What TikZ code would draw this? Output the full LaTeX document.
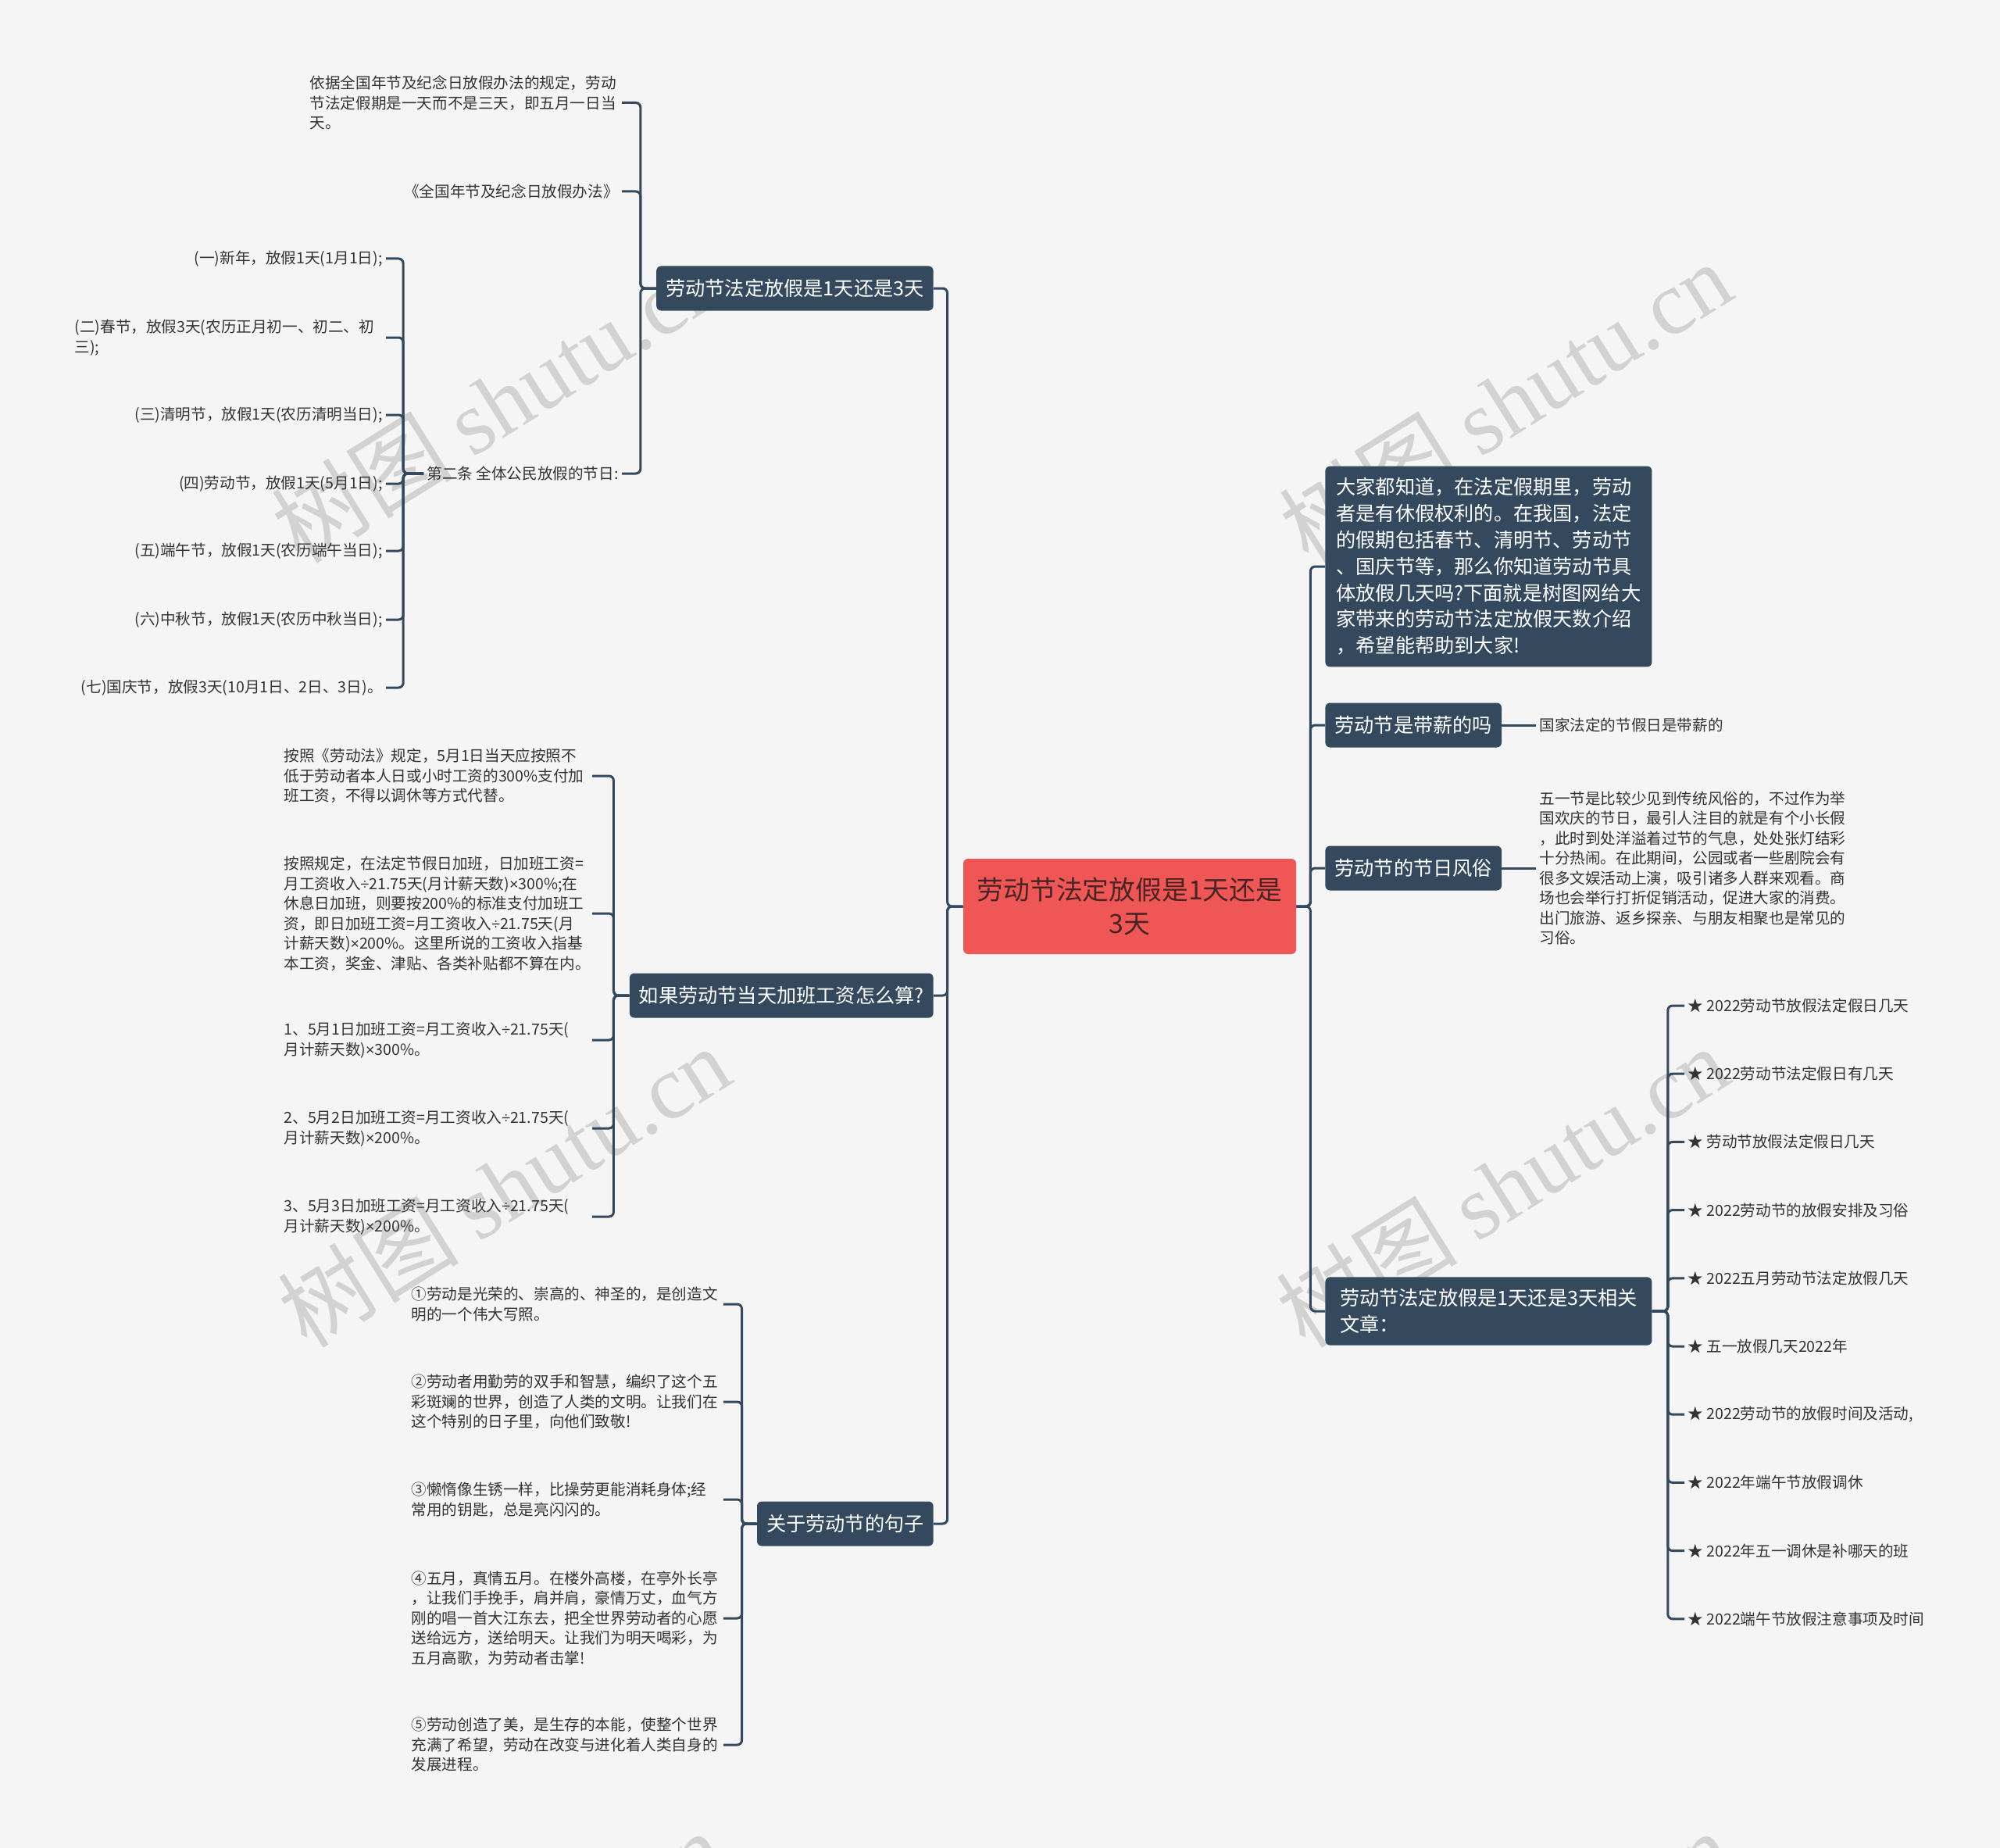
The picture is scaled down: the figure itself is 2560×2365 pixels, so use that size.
\documentclass[tikz,border=0pt]{standalone}
\usepackage{fontspec}
\setmainfont{Noto Sans CJK SC}
\newfontfamily\wmlatin{Liberation Serif}
\newfontfamily\symfont{Liberation Sans}
\newcommand\dv{{\symfont ÷}}
\newcommand\tm{{\symfont ×}}
\usetikzlibrary{positioning,calc}
\definecolor{bgc}{HTML}{F5F5F5}
\definecolor{navy}{HTML}{34495E}
\definecolor{rootred}{HTML}{EF5656}
\definecolor{roottext}{HTML}{4A2424}
\definecolor{leaftext}{HTML}{333333}
\definecolor{wmgray}{HTML}{D2D2D2}

\begin{document}
\begin{tikzpicture}[x=0.5pt,y=-0.5pt,
  root/.style={fill=rootred,text=roottext,rounded corners=3pt,align=center,minimum width=213pt,minimum height=61pt,font=\fontsize{16.9pt}{21.2pt}\selectfont},
  topic/.style={fill=navy,text=white,rounded corners=3pt,align=left,inner xsep=6pt,inner ysep=7.5pt,minimum height=28.5pt,font=\fontsize{12.6pt}{16.9pt}\selectfont},
  leaf/.style={text=leaftext,align=left,inner sep=2pt,font=\fontsize{9.8pt}{12.75pt}\selectfont},
  daywide/.style={text width=197pt},
  dayplain/.style={},
  conn/.style={draw=navy,line width=1.5pt,rounded corners=3pt},
  wm/.style={text=wmgray,rotate=32,font=\fontsize{58pt}{58pt}\selectfont}]
  % page and watermark
  \fill[bgc] (0,0) rectangle (2560,2365);
  \useasboundingbox (0,0) rectangle (2560,2365);
  \begin{scope}
    \clip (0,0) rectangle (2560,2365);
    \foreach \wx/\wy [count=\i] in {637/514,1927/514,645/1518,1923/1518,637/2522,1927/2522}
      \node[wm] (wm\i) at (\wx,\wy) {树图 {\wmlatin shutu.cn}};
  \end{scope}

  \node[root] (root) at (1446,1160) {劳动节法定放假是1天还是\\3天};

  % right side
  \node[topic,anchor=west,minimum width=209pt] (intro) at (1696,725) {大家都知道，在法定假期里，劳动\\者是有休假权利的。在我国，法定\\的假期包括春节、清明节、劳动节\\、国庆节等，那么你知道劳动节具\\体放假几天吗?下面就是树图网给大\\家带来的劳动节法定放假天数介绍\\，希望能帮助到大家!};
  \node[topic,anchor=west] (paid) at (1696,928) {劳动节是带薪的吗};
  \node[topic,anchor=west] (custom) at (1696,1111) {劳动节的节日风俗};
  \node[topic,anchor=west,minimum width=209pt] (related) at (1696,1678) {劳动节法定放假是1天还是3天相关\\文章：};
  \foreach \n in {intro,paid,custom,related} \draw[conn] (root.east) -- ++(18,0) |- (\n.west);

  \node[leaf,anchor=west] (paidans) at (1966,928) {国家法定的节假日是带薪的};
  \node[leaf,anchor=west] (customtxt) at (1966,1111) {五一节是比较少见到传统风俗的，不过作为举\\国欢庆的节日，最引人注目的就是有个小长假\\，此时到处洋溢着过节的气息，处处张灯结彩\\十分热闹。在此期间，公园或者一些剧院会有\\很多文娱活动上演，吸引诸多人群来观看。商\\场也会举行打折促销活动，促进大家的消费。\\出门旅游、返乡探亲、与朋友相聚也是常见的\\习俗。};
  \draw[conn] (paid.east) -- (paidans.west);
  \draw[conn] (custom.east) -- (customtxt.west);

  \foreach \t [count=\i] in {2022劳动节放假法定假日几天,2022劳动节法定假日有几天,劳动节放假法定假日几天,2022劳动节的放假安排及习俗,2022五月劳动节法定放假几天,五一放假几天2022年,{2022劳动节的放假时间及活动,},2022年端午节放假调休,2022年五一调休是补哪天的班,2022端午节放假注意事项及时间} {
    \node[leaf,anchor=west] (art\i) at (2156,{1287+(\i-1)*87.2}) {★ \t};
    \draw[conn] (related.east) -- ++(20,0) |- (art\i.west);
  }

  % left side
  \node[topic,anchor=east] (law) at (1195,369) {劳动节法定放假是1天还是3天};
  \node[topic,anchor=east] (overtime) at (1195,1274) {如果劳动节当天加班工资怎么算?};
  \node[topic,anchor=east] (quotes) at (1195,1950) {关于劳动节的句子};
  \foreach \n in {law,overtime,quotes} \draw[conn] (root.west) -- ++(-20,0) |- (\n.east);

  \node[leaf,anchor=east,text width=197.5pt] (basis) at (796,131.5) {依据全国年节及纪念日放假办法的规定，劳动\\节法定假期是一天而不是三天，即五月一日当\\天。};
  \node[leaf,anchor=east] (measure) at (796,245) {《全国年节及纪念日放假办法》};
  \node[leaf,anchor=east] (article) at (796,606) {第二条 全体公民放假的节日:};
  \foreach \n in {basis,measure,article} \draw[conn] (law.west) -- ++(-20,0) |- (\n.east);

  \foreach \t/\y/\s [count=\i] in {{(一)新年，放假1天(1月1日);}/331/dayplain,{(二)春节，放假3天(农历正月初一、初二、初\\三);}/432/daywide,{(三)清明节，放假1天(农历清明当日);}/531/dayplain,{(四)劳动节，放假1天(5月1日);}/619/dayplain,{(五)端午节，放假1天(农历端午当日);}/705/dayplain,{(六)中秋节，放假1天(农历中秋当日);}/793/dayplain,{(七)国庆节，放假3天(10月1日、2日、3日)。}/880/dayplain} {
    \node[leaf,anchor=east,\s] (day\i) at (494,\y) {\t};
    \draw[conn] (article.west) -- ++(-26,0) |- (day\i.east);
  }

  \foreach \t/\y [count=\i] in {{按照《劳动法》规定，5月1日当天应按照不\\低于劳动者本人日或小时工资的300\%支付加\\班工资，不得以调休等方式代替。}/993,{按照规定，在法定节假日加班，日加班工资=\\月工资收入\dv21.75天(月计薪天数)\tm300\%;在\\休息日加班，则要按200\%的标准支付加班工\\资，即日加班工资=月工资收入\dv21.75天(月\\计薪天数)\tm200\%。这里所说的工资收入指基\\本工资，奖金、津贴、各类补贴都不算在内。}/1169,{1、5月1日加班工资=月工资收入\dv21.75天(\\月计薪天数)\tm300\%。}/1331,{2、5月2日加班工资=月工资收入\dv21.75天(\\月计薪天数)\tm200\%。}/1444,{3、5月3日加班工资=月工资收入\dv21.75天(\\月计薪天数)\tm200\%。}/1557} {
    \node[leaf,anchor=east,text width=195pt] (pay\i) at (758,\y) {\t};
    \draw[conn] (overtime.west) -- ++(-20,0) |- (pay\i.east);
  }

  \foreach \t/\y [count=\i] in {{①劳动是光荣的、崇高的、神圣的，是创造文\\明的一个伟大写照。}/1669,{②劳动者用勤劳的双手和智慧，编织了这个五\\彩斑斓的世界，创造了人类的文明。让我们在\\这个特别的日子里，向他们致敬!}/1794,{③懒惰像生锈一样，比操劳更能消耗身体;经\\常用的钥匙，总是亮闪闪的。}/1919,{④五月，真情五月。在楼外高楼，在亭外长亭\\，让我们手挽手，肩并肩，豪情万丈，血气方\\刚的唱一首大江东去，把全世界劳动者的心愿\\送给远方，送给明天。让我们为明天喝彩，为\\五月高歌，为劳动者击掌!}/2071,{⑤劳动创造了美，是生存的本能，使整个世界\\充满了希望，劳动在改变与进化着人类自身的\\发展进程。}/2233} {
    \node[leaf,anchor=east,text width=197.5pt] (line\i) at (926,\y) {\t};
    \draw[conn] (quotes.west) -- ++(-19,0) |- (line\i.east);
  }
\end{tikzpicture}
\end{document}
